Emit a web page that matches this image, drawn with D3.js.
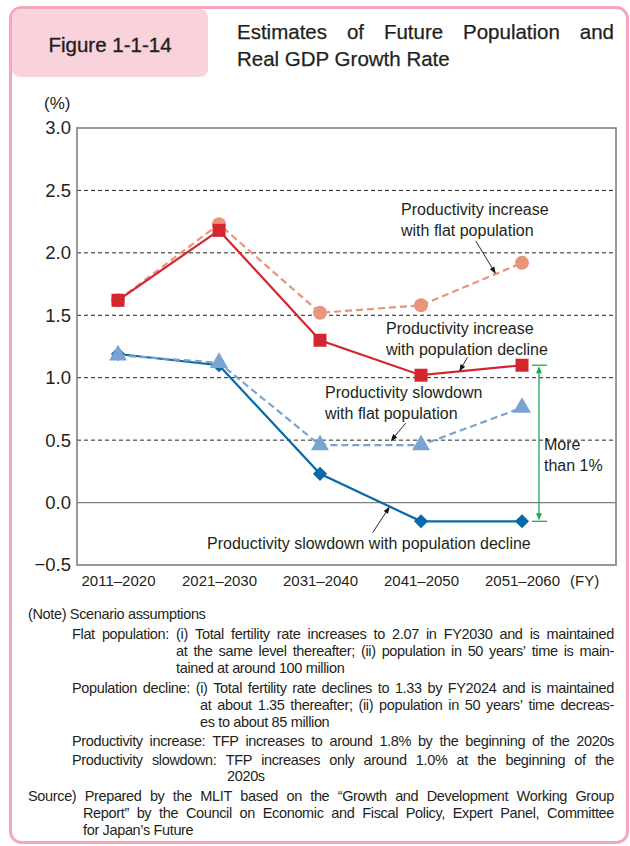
<!DOCTYPE html>
<html>
<head>
<meta charset="utf-8">
<script src="https://cdn.jsdelivr.net/npm/d3@7"></script>
<style>
  html, body { margin: 0; padding: 0; background: #fff; }
  svg { display: block; font-family: "Liberation Sans", Arial, Helvetica, sans-serif; }
</style>
</head>
<body>
<svg id="fig" width="630" height="846"></svg>
<script>
// ---- data -------------------------------------------------------------
const categories = ["2011–2020", "2021–2030", "2031–2040", "2041–2050", "2051–2060"];
const incFlat     = [1.62, 2.23, 1.52, 1.58, 1.92];   // productivity increase, flat population
const incDecline  = [1.62, 2.18, 1.30, 1.02, 1.10];   // productivity increase, population decline
const slowFlat    = [1.18, 1.12, 0.46, 0.46, 0.76];   // productivity slowdown, flat population
const slowDecline = [1.19, 1.10, 0.23, -0.15, -0.15]; // productivity slowdown, population decline
const yTicks      = [-0.5, 0, 0.5, 1.0, 1.5, 2.0, 2.5, 3.0];
const yTickLabels = ["−0.5", "0.0", "0.5", "1.0", "1.5", "2.0", "2.5", "3.0"];
const gridValues  = [0.5, 1.0, 1.5, 2.0, 2.5];

const figureNo = "Figure 1-1-14";
const titleLines = ["Estimates of Future Population and", "Real GDP Growth Rate"];
const seriesNames = {
  incFlat: ["Productivity increase", "with flat population"],
  incDecline: ["Productivity increase", "with population decline"],
  slowFlat: ["Productivity slowdown", "with flat population"],
  slowDecline: ["Productivity slowdown with population decline"]
};
const gapLabel = ["More", "than 1%"];

// note block: [indent, text, justified]
const noteLines = [
  [28,  "(Note) Scenario assumptions", false],
  [72,  "Flat population: (i) Total fertility rate increases to 2.07 in FY2030 and is maintained", true],
  [176, "at the same level thereafter; (ii) population in 50 years’ time is main-", true],
  [176, "tained at around 100 million", false],
  [72,  "Population decline: (i) Total fertility rate declines to 1.33 by FY2024 and is maintained", true],
  [200, "at about 1.35 thereafter; (ii) population in 50 years’ time decreas-", true],
  [200, "es to about 85 million", false],
  [72,  "Productivity increase: TFP increases to around 1.8% by the beginning of the 2020s", true],
  [72,  "Productivity slowdown: TFP increases only around 1.0% at the beginning of the", true],
  [227, "2020s", false],
  [28,  "Source) Prepared by the MLIT based on the “Growth and Development Working Group", true],
  [83,  "Report” by the Council on Economic and Fiscal Policy, Expert Panel, Committee", true],
  [83,  "for Japan’s Future", false]
];
const noteBaselines = [619, 639, 656, 673, 693, 710, 727, 746, 765, 781, 801, 818, 835];

// ---- styles -----------------------------------------------------------
const C = {
  frame: "#f4a7b8", header: "#f9d3dc", text: "#231f20", axis: "#7f7f7f",
  red: "#d3262e", salmon: "#e8957b", blue: "#0869a8", lightBlue: "#7ba3d2", green: "#1aa957"
};

const svg = d3.select("#fig");

// ---- frame and heading -----------------------------------------------
svg.append("rect").attr("x", 10.5).attr("y", 7.5).attr("width", 617).attr("height", 835)
  .attr("rx", 11).attr("fill", "#fff").attr("stroke", C.frame).attr("stroke-width", 3);
svg.append("rect").attr("x", 12).attr("y", 9).attr("width", 196).attr("height", 68)
  .attr("rx", 8).attr("fill", C.header);
svg.append("text").attr("x", 110).attr("y", 52).attr("text-anchor", "middle")
  .attr("font-size", 20.5).attr("fill", C.text)
  .attr("stroke", C.text).attr("stroke-width", 0.35).text(figureNo);

// write a line of words spread evenly between x0 and x1
function justified(parent, text, x0, x1, y, size, spacing) {
  const words = text.split(" ");
  const t = parent.append("text").attr("y", y).attr("font-size", size).attr("fill", C.text)
    .attr("letter-spacing", spacing || 0);
  const spans = words.map(w => t.append("tspan").text(w));
  const widths = spans.map(s => s.node().getComputedTextLength());
  let gap = (x1 - x0 - d3.sum(widths)) / Math.max(1, words.length - 1);
  let k = 1;
  const minGap = size * 0.2;
  if (gap < minGap) {           // squeeze glyphs horizontally when the words do not fit
    k = (x1 - x0 - minGap * (words.length - 1)) / d3.sum(widths);
    gap = minGap;
    t.attr("transform", `translate(${x0},0) scale(${k},1) translate(${-x0},0)`);
  }
  let x = x0;
  spans.forEach((s, i) => { s.attr("x", x0 + (x - x0) / k); x += widths[i] * k + gap; });
  return t;
}

const title = justified(svg, titleLines[0], 237, 614, 39, 20.5);
title.attr("stroke", C.text).attr("stroke-width", 0.25);
svg.append("text").attr("x", 237).attr("y", 66).attr("font-size", 20.5).attr("fill", C.text)
  .attr("stroke", C.text).attr("stroke-width", 0.25).text(titleLines[1]);

// ---- chart ------------------------------------------------------------
const plot = { left: 77, right: 616, top: 128, bottom: 565 };
const x = d3.scalePoint().domain(categories).range([118, 522]);
const y = d3.scaleLinear().domain([-0.5, 3.0]).range([plot.bottom, plot.top]);

const g = svg.append("g");

// dashed grid
g.selectAll(".grid").data(gridValues).join("line")
  .attr("x1", plot.left).attr("x2", plot.right)
  .attr("y1", d => y(d)).attr("y2", d => y(d))
  .attr("stroke", "#222").attr("stroke-width", 1).attr("stroke-dasharray", "4,3");
// zero line
g.append("line").attr("x1", plot.left).attr("x2", plot.right)
  .attr("y1", y(0)).attr("y2", y(0)).attr("stroke", C.axis).attr("stroke-width", 1.2);
// plot border
g.append("rect").attr("x", plot.left).attr("y", plot.top)
  .attr("width", plot.right - plot.left).attr("height", plot.bottom - plot.top)
  .attr("fill", "none").attr("stroke", C.axis).attr("stroke-width", 1.6);

// y axis
const yAxis = g.append("g").attr("transform", `translate(${plot.left},0)`)
  .call(d3.axisLeft(y).tickValues(yTicks).tickSize(0).tickPadding(6)
    .tickFormat((d, i) => yTickLabels[i]));
yAxis.select(".domain").remove();
yAxis.selectAll("text").attr("font-size", 18.5).attr("fill", C.text)
  .attr("font-family", "'Liberation Sans', Arial, sans-serif");

// x axis
const xAxis = g.append("g").attr("transform", `translate(0,${plot.bottom})`)
  .call(d3.axisBottom(x).tickSize(0).tickPadding(10));
xAxis.select(".domain").remove();
xAxis.selectAll("text").attr("font-size", 15).attr("fill", C.text)
  .attr("font-family", "'Liberation Sans', Arial, sans-serif");

g.append("text").attr("x", 44).attr("y", 109).attr("font-size", 17).attr("fill", C.text).text("(%)");
g.append("text").attr("x", 570).attr("y", 586).attr("font-size", 15).attr("fill", C.text).text("(FY)");

// series
const line = d3.line().x((d, i) => x(categories[i])).y(d => y(d));
function drawSeries(values, color, dashed, marker) {
  const s = g.append("g");
  s.append("path").attr("d", line(values)).attr("fill", "none")
    .attr("stroke", color).attr("stroke-width", 2.2)
    .attr("stroke-dasharray", dashed ? "7,4" : null);
  const pts = s.selectAll(".pt").data(values).join("g")
    .attr("transform", (d, i) => `translate(${x(categories[i])},${y(d)})`);
  if (marker === "square") {
    pts.append("rect").attr("x", -6.5).attr("y", -6.5).attr("width", 13).attr("height", 13).attr("fill", color);
  } else if (marker === "circle") {
    pts.append("circle").attr("r", 7).attr("fill", color);
  } else if (marker === "triangle") {
    pts.append("path").attr("d", d3.symbol(d3.symbolTriangle, 140)()).attr("fill", color);
  } else {
    pts.append("path").attr("d", d3.symbol(d3.symbolSquare, 100)()).attr("transform", "rotate(45)").attr("fill", color);
  }
}
drawSeries(incFlat, C.salmon, true, "circle");
drawSeries(incDecline, C.red, false, "square");
drawSeries(slowDecline, C.blue, false, "diamond");
drawSeries(slowFlat, C.lightBlue, true, "triangle");

// point a fraction t along segment i of a series
function along(values, i, t) {
  const x0 = x(categories[i]), x1 = x(categories[i + 1]);
  return [x0 + (x1 - x0) * t, y(values[i] + (values[i + 1] - values[i]) * t)];
}
// thin leader arrow ending at tip
function leader(tip, dx, dy) {
  const [tx, ty] = tip;
  const sx = tx + dx, sy = ty + dy;
  const ang = Math.atan2(ty - sy, tx - sx);
  const L = 7, W = 2.6;
  g.append("line").attr("x1", sx).attr("y1", sy)
    .attr("x2", tx - Math.cos(ang) * L * 0.8).attr("y2", ty - Math.sin(ang) * L * 0.8)
    .attr("stroke", "#111").attr("stroke-width", 0.9);
  const bx = tx - Math.cos(ang) * L, by = ty - Math.sin(ang) * L;
  const px = -Math.sin(ang) * W, py = Math.cos(ang) * W;
  g.append("path").attr("d", `M${tx},${ty}L${bx + px},${by + py}L${bx - px},${by - py}Z`).attr("fill", "#111");
}

// series labels
function label(lines, x0, y0) {
  lines.forEach((t, i) => g.append("text").attr("x", x0).attr("y", y0 + i * 21)
    .attr("font-size", 16).attr("fill", C.text).text(t));
}
label(seriesNames.incFlat, 401, 215);
label(seriesNames.incDecline, 386, 334);
label(seriesNames.slowFlat, 325, 398);
label(seriesNames.slowDecline, 207, 549);

leader(along(incFlat, 3, 0.74), -20, -33);
leader(along(incDecline, 3, 0.38), 8, -14);
leader([along(slowFlat, 2, 0.7)[0], y(slowFlat[3]) - 4], 15, -18);
leader(along(slowDecline, 2, 0.69), -17, 26);

// gap between the highest and lowest scenario in the final period
const last = categories.length - 1;
const gx = x(categories[last]) + 17;
const gTop = y(incDecline[last]), gBot = y(slowDecline[last]);
g.append("line").attr("x1", gx - 7).attr("x2", gx + 8).attr("y1", gTop).attr("y2", gTop)
  .attr("stroke", C.green).attr("stroke-width", 1.3);
g.append("line").attr("x1", gx - 7).attr("x2", gx + 8).attr("y1", gBot).attr("y2", gBot)
  .attr("stroke", C.green).attr("stroke-width", 1.3);
g.append("line").attr("x1", gx).attr("x2", gx).attr("y1", gTop + 4).attr("y2", gBot - 4)
  .attr("stroke", C.green).attr("stroke-width", 1.3);
g.append("path").attr("d", `M${gx},${gTop + 1}L${gx - 3},${gTop + 8}L${gx + 3},${gTop + 8}Z`).attr("fill", C.green);
g.append("path").attr("d", `M${gx},${gBot - 1}L${gx - 3},${gBot - 8}L${gx + 3},${gBot - 8}Z`).attr("fill", C.green);
gapLabel.forEach((t, i) => g.append("text").attr("x", gx + 5).attr("y", 450 + i * 21)
  .attr("font-size", 16).attr("fill", C.text).text(t));

// ---- notes --------------------------------------------------------------
const notes = svg.append("g");
noteLines.forEach(([x0, text, just], i) => {
  if (just) {
    justified(notes, text, x0, 614, noteBaselines[i], 14.5, -0.35);
  } else {
    notes.append("text").attr("x", x0).attr("y", noteBaselines[i]).attr("font-size", 14.5)
      .attr("letter-spacing", -0.35).attr("fill", C.text).text(text);
  }
});
</script>
</body>
</html>
